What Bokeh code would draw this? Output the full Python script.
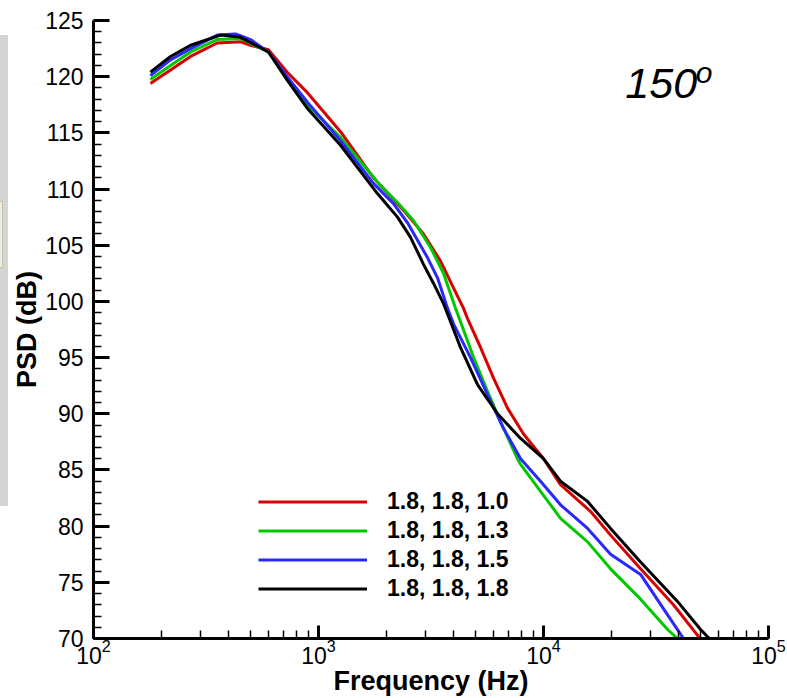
from bokeh.plotting import figure
from bokeh.models import (Range1d, LogTicker, SingleIntervalTicker, Legend, LegendItem,
                          Label, LogTickFormatter, Div)
from bokeh.layouts import row
from bokeh.embed import file_html
from bokeh.resources import INLINE

# ---- data ----
labels = ["1.8, 1.8, 1.0", "1.8, 1.8, 1.3", "1.8, 1.8, 1.5", "1.8, 1.8, 1.8"]
colors = ["#d80000", "#00c800", "#2828ff", "#000000"]

f_red = [179, 220, 270, 355, 450, 499, 599, 726, 891, 1253, 1755, 2388, 2929, 3483, 3981,
         4407, 4590, 5250, 5990, 6920, 8150, 10000, 11900, 16200, 19860, 27000, 37800, 48300, 51400]
db_red = [119.4, 120.6, 121.8, 123.0, 123.1, 122.8, 122.4, 120.4, 118.6, 115.1, 111.0, 108.1, 106.0, 103.6, 101.2,
          99.4, 98.5, 95.9, 93.2, 90.5, 88.2, 86.0, 83.7, 81.3, 79.2, 76.2, 73.0, 70.3, 69.7]

f_green = [179, 220, 270, 355, 450, 599, 726, 891, 1253, 1888, 2244, 2642, 3148, 3594, 4064,
           4150, 4890, 5640, 6440, 7660, 7910, 9700, 11900, 15700, 19860, 27000, 35600, 39400, 41500]
db_green = [119.75, 121.0, 122.2, 123.3, 123.4, 122.2, 119.85, 117.5, 114.6, 110.3, 108.8, 107.2, 104.8, 102.5, 99.4,
            98.9, 95.0, 92.0, 89.3, 86.0, 85.5, 83.1, 80.7, 78.6, 76.2, 73.5, 70.8, 70.0, 69.5]

f_blue = [179, 220, 270, 355, 428, 499, 599, 726, 891, 1253, 1755, 2154, 2487, 3050, 3380,
          3743, 3981, 4740, 5640, 6640, 7910, 9700, 11900, 15700, 19860, 27000, 35600, 41900, 44100]
db_blue = [120.1, 121.5, 122.5, 123.7, 123.8, 123.3, 122.2, 120.0, 117.75, 114.3, 110.5, 108.7, 107.0, 103.9, 102.1,
           99.4, 98.0, 95.0, 91.7, 88.7, 86.0, 84.0, 81.9, 79.8, 77.5, 75.7, 72.1, 70.0, 69.5]

f_black = [179, 220, 270, 367, 450, 599, 726, 891, 1253, 1828, 2244, 2565, 2929, 3246, 3594,
           3743, 4276, 5090, 6250, 7910, 10000, 11900, 15700, 19860, 27000, 39400, 49900, 56400]
db_black = [120.4, 121.8, 122.8, 123.7, 123.5, 122.2, 119.7, 117.2, 113.9, 109.6, 107.5, 105.7, 103.3, 101.6, 99.8,
            98.9, 95.9, 92.6, 90.0, 87.8, 86.0, 84.0, 82.2, 79.8, 76.8, 73.3, 70.8, 69.7]

x_range = (100, 100000)
y_range = (70, 125)
angle_text = "150"
angle_sup = "o"

FONT = "Liberation Sans"
INK = "#000000"

p = figure(width=779, height=698, x_axis_type="log", output_backend="svg", toolbar_location=None,
           x_range=Range1d(*x_range), y_range=Range1d(*y_range),
           min_border_left=85, min_border_right=19, min_border_top=20, min_border_bottom=58)
p.outline_line_color = None
p.xgrid.visible = False
p.ygrid.visible = False
p.background_fill_color = "white"
p.border_fill_color = "white"

series = [(f_red, db_red), (f_green, db_green), (f_blue, db_blue), (f_black, db_black)]
items = []
for (fx, dy), c, lab in zip(series, colors, labels):
    r = p.line(fx, dy, line_color=c, line_width=3)
    items.append(LegendItem(label=lab, renderers=[r]))

# axes
for ax in (p.xaxis[0], p.yaxis[0]):
    ax.axis_line_width = 3
    ax.axis_line_color = INK
    ax.major_tick_out = 0
    ax.major_tick_line_width = 3
    ax.major_tick_line_color = INK
    ax.minor_tick_out = 0
    ax.minor_tick_line_width = 1.5
    ax.minor_tick_line_color = INK
    ax.minor_tick_in = 8
    ax.major_label_text_font = FONT
    ax.major_label_text_font_size = "23px"
    ax.major_label_text_color = INK
    ax.axis_label_text_font = FONT
    ax.axis_label_text_font_style = "bold"
    ax.axis_label_text_font_size = "27px"
    ax.axis_label_text_color = INK

xa = p.xaxis[0]
xa.ticker = LogTicker(num_minor_ticks=10)
xa.formatter = LogTickFormatter()
xa.major_tick_in = 13
xa.major_label_standoff = 0
xa.axis_label = "Frequency (Hz)"
xa.axis_label_standoff = -1

ya = p.yaxis[0]
ya.ticker = SingleIntervalTicker(interval=5, num_minor_ticks=5)
ya.major_tick_in = 16
ya.major_label_standoff = 10
ya.axis_label = "PSD (dB)"
ya.axis_label_standoff = 0

legend = Legend(items=items, location=(165, 35), orientation="vertical",
                glyph_width=109, glyph_height=29, label_height=29, label_standoff=20,
                spacing=0, padding=0, margin=0, border_line_color=None,
                background_fill_alpha=0, label_text_color=INK,
                label_text_font=FONT, label_text_font_style="bold", label_text_font_size="23px")
p.add_layout(legend)

p.add_layout(Label(x=23100, y=119.4, text=angle_text, text_font=FONT, text_font_style="italic",
                   text_font_size="43px", text_baseline="alphabetic", text_color=INK))
p.add_layout(Label(x=47500, y=120.4, text=angle_sup, text_font=FONT, text_font_style="italic",
                   text_font_size="30px", text_baseline="alphabetic", text_color=INK))

# narrow grey strip on the far left of the picture
strip = Div(text='<div style="position:relative;width:8px;height:471px;">'
                 '<div style="position:absolute;left:0;top:166px;width:3px;height:67px;'
                 'background:#ececec;border:1px solid #c8bf9c;border-left:none;"></div></div>',
            width=8, height=471, margin=(35, 0, 0, 0),
            styles={"background-color": "#d4d4d4"})

layout = row(strip, p, spacing=0)
open("out.html", "w").write(file_html(layout, INLINE))
